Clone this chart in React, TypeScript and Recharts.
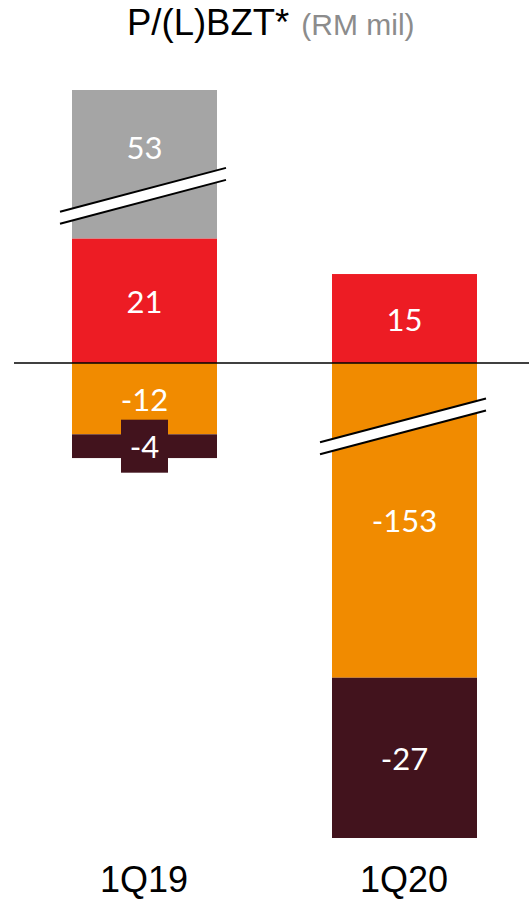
import React from "react";
import { Bar, BarChart, LabelList, ReferenceLine, XAxis, YAxis } from "recharts";

// Quarters and the P/(L)BZT components (RM mil).
const categories = ["1Q19", "1Q20"];
const redValues = [21, 15];
const greyValues = [53, null];
const orangeValues = [-12, -153];
const maroonValues = [-4, -27];

// The axis is broken on two bars, so these are the heights actually drawn.
const greyPlotted = [25, null];
const orangePlotted = [-12, -53];

// where the "//" break sits inside a bar, as a fraction from its top (null = no break)
const greyBreaks = [0.71, null];
const orangeBreaks = [null, 0.2];

const COLORS = {
  grey: "#a5a5a5",
  red: "#ed1c24",
  orange: "#f18b00",
  maroon: "#42131d",
};

const rows = categories.map((name, i) => ({
  name,
  red: redValues[i],
  grey: greyPlotted[i],
  orange: orangePlotted[i],
  maroon: maroonValues[i],
}));

const norm = (y: number, h: number) => ({ top: Math.min(y, y + h), h: Math.abs(h) });

function makeShape(fill: string, breaks: (number | null)[]) {
  return (props: any) => {
    const { x, y, width, height, index } = props;
    if (width == null || height == null) return null;
    const { top, h } = norm(y, height);
    const f = breaks[index];
    let brk = null;
    if (f != null) {
      const cx = x + width / 2;
      const cy = top + f * h;
      const slope = 0.264;
      const x0 = x - 12;
      const x1 = x + width + 9;
      const yAt = (xx: number, off: number) => cy + off - slope * (xx - cx);
      brk = (
        <g>
          <polygon
            points={`${x0},${yAt(x0, -6)} ${x1},${yAt(x1, -6)} ${x1},${yAt(x1, 6)} ${x0},${yAt(x0, 6)}`}
            fill="#fff"
          />
          <line x1={x0} y1={yAt(x0, -6)} x2={x1} y2={yAt(x1, -6)} stroke="#000" strokeWidth={2} />
          <line x1={x0} y1={yAt(x0, 6)} x2={x1} y2={yAt(x1, 6)} stroke="#000" strokeWidth={2} />
        </g>
      );
    }
    return (
      <g>
        <rect x={x} y={top} width={width} height={h} fill={fill} />
        {brk}
      </g>
    );
  };
}

function makeLabel(values: (number | null)[], opts: { dy?: number; box?: string } = {}) {
  return (props: any) => {
    const { x, y, width, height, index } = props;
    const v = values[index];
    if (v == null || width == null) return null;
    const { top, h } = norm(y, height);
    const cx = x + width / 2;
    const cy = top + h / 2 + (opts.dy || 0);
    return (
      <g>
        {opts.box && <rect x={cx - 23.5} y={cy - 26.5} width={47} height={53} fill={opts.box} />}
        <text
          x={cx}
          y={cy}
          textAnchor="middle"
          dominantBaseline="central"
          fill="#fff"
          fontSize={31}
          fontFamily="Lato, 'Open Sans', sans-serif"
        >
          {v}
        </text>
      </g>
    );
  };
}

export default function App() {
  return (
    <div
      style={{
        position: "absolute",
        left: 0,
        top: 0,
        width: 529,
        height: 900,
        overflow: "hidden",
        background: "#fff",
      }}
    >
      <div
        style={{
          position: "absolute",
          top: 5,
          left: 127,
          whiteSpace: "nowrap",
          fontFamily: "'Liberation Sans', Arial, sans-serif",
          lineHeight: 1,
        }}
      >
        <span style={{ fontSize: 36.5, color: "#000" }}>P/(L)BZT*</span>
        <span style={{ fontSize: 30, color: "#8c8c8c", marginLeft: 12 }}>(RM mil)</span>
      </div>
      <BarChart
        width={534}
        height={900}
        data={rows}
        stackOffset="sign"
        margin={{ top: 90, right: 0, bottom: 0, left: 14 }}
      >
        <XAxis
          dataKey="name"
          axisLine={false}
          tickLine={false}
          height={62}
          tickMargin={22}
          tick={{ fontSize: 36, fill: "#000", fontFamily: "'Liberation Sans', Arial, sans-serif" }}
        />
        <YAxis hide domain={[-80, 46]} />
        <Bar dataKey="red" stackId="a" barSize={145} isAnimationActive={false} shape={makeShape(COLORS.red, [null, null])}>
          <LabelList content={makeLabel(redValues)} />
        </Bar>
        <Bar dataKey="grey" stackId="a" barSize={145} isAnimationActive={false} shape={makeShape(COLORS.grey, greyBreaks)}>
          <LabelList content={makeLabel(greyValues, { dy: -17 })} />
        </Bar>
        <Bar dataKey="orange" stackId="a" barSize={145} isAnimationActive={false} shape={makeShape(COLORS.orange, orangeBreaks)}>
          <LabelList content={makeLabel(orangeValues)} />
        </Bar>
        <Bar dataKey="maroon" stackId="a" barSize={145} isAnimationActive={false} shape={makeShape(COLORS.maroon, [null, null])}>
          <LabelList content={(p: any) => makeLabel(maroonValues, { box: p.index === 0 ? COLORS.maroon : undefined })(p)} />
        </Bar>
        <ReferenceLine y={0} stroke="#000" strokeWidth={1.5} />
      </BarChart>
    </div>
  );
}
